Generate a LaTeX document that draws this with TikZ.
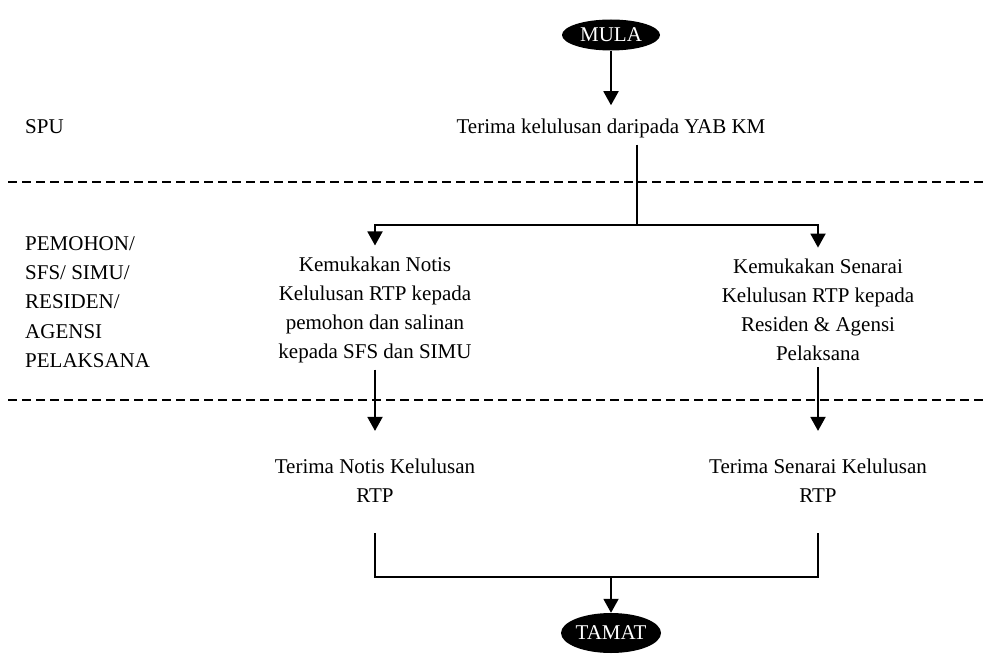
\documentclass[tikz,border=0pt]{standalone}
\usepackage{fontspec}
\setmainfont{Liberation Serif}
\usetikzlibrary{arrows.meta,shapes.geometric}
\begin{document}
\begin{tikzpicture}[x=1pt,y=-1pt,
  txt/.style={font=\fontsize{21}{29.2}\selectfont, align=center, inner sep=0pt},
  term/.style={ellipse, fill=black, text=white, inner sep=0pt,
    minimum width=98pt, minimum height=31pt, font=\fontsize{21}{24}\selectfont},
  flow/.style={line width=1.9pt, -{Triangle[length=14pt,width=15pt]}},
  link/.style={line width=1.9pt},
  lane/.style={line width=1.6pt, dash pattern=on 9pt off 5pt}]
\useasboundingbox (0,0) rectangle (985,655);

% terminals
\node[term] (mula) at (611,35) {MULA};
\node[term, minimum width=100pt, minimum height=40pt] (tamat) at (611,633) {TAMAT};

% lane labels
\node[txt, anchor=base west] (spu) at (25,134) {SPU};
\node[txt, anchor=west, align=left] (agensi) at (25,302)
  {PEMOHON/\\SFS/ SIMU/\\RESIDEN/\\AGENSI\\PELAKSANA};

% steps
\node[txt, anchor=base] (lulus) at (611,134) {Terima kelulusan daripada YAB KM};
\node[txt] (notis) at (375,310)
  {Kemukakan Notis\\Kelulusan RTP kepada\\pemohon dan salinan\\kepada SFS dan SIMU};
\node[txt] (senarai) at (818,310)
  {Kemukakan Senarai\\Kelulusan RTP kepada\\Residen \& Agensi\\Pelaksana};
\node[txt] (tnotis) at (375,481) {Terima Notis Kelulusan\\RTP};
\node[txt] (tsenarai) at (818,481) {Terima Senarai Kelulusan\\RTP};

% lane separators
\coordinate (l1w) at (8,182);   \coordinate (l1e) at (985,182);
\coordinate (l2w) at (8,400);   \coordinate (l2e) at (985,400);
\draw[lane] (l1w) -- (l1e);
\draw[lane] (l2w) -- (l2e);

% branch and merge points
\coordinate (split) at (637,225);
\coordinate (join) at (611,577);

% connectors
\draw[flow, shorten >=14pt] (mula.south) -- (lulus.north);
\draw[link, shorten <=6pt] (lulus.south -| split) -- (split);
\draw[flow, shorten >=11pt] (split) -| (notis.north);
\draw[flow, shorten >=11pt] (split) -| (senarai.north);
\draw[flow, shorten <=6pt, shorten >=28pt] (notis.south) -- (tnotis.north);
\draw[flow, shorten <=6pt, shorten >=28pt] (senarai.south) -- (tsenarai.north);
\draw[link, shorten <=30pt] (tnotis.south) |- (join);
\draw[link, shorten <=30pt] (tsenarai.south) |- (join);
\draw[flow] (join) -- (tamat.north);
\end{tikzpicture}
\end{document}
